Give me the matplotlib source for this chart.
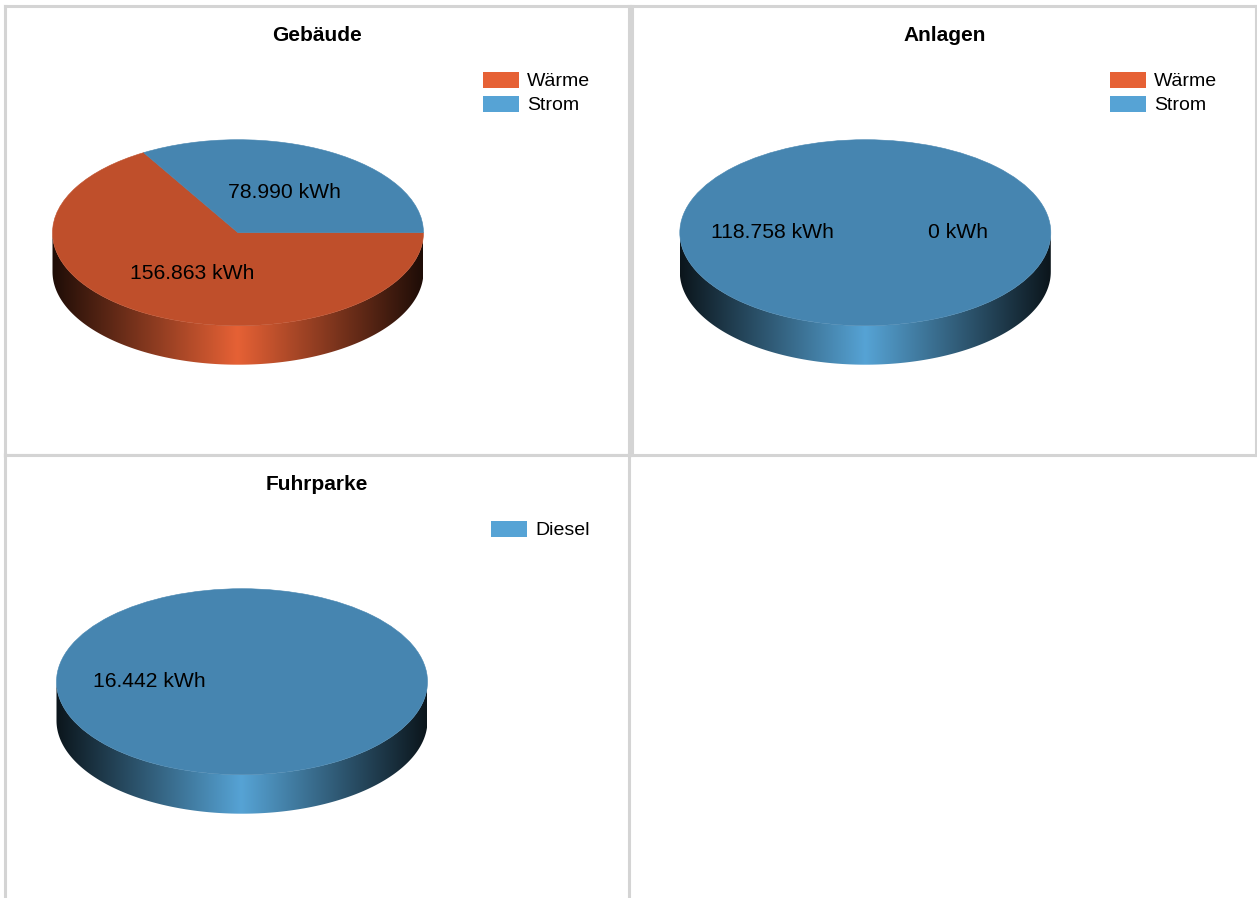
import numpy as np
import matplotlib
matplotlib.use("Agg")
import matplotlib.pyplot as plt
from matplotlib.patches import Wedge, Rectangle, PathPatch
from matplotlib.path import Path
from matplotlib.transforms import Affine2D
from matplotlib.colors import to_rgb

plt.rcParams['font.family'] = ['Liberation Sans', 'DejaVu Sans']

W, H = 1257, 898

titles = ["Gebäude", "Anlagen", "Fuhrparke"]
gebaeude_names = ["Wärme", "Strom"]
gebaeude_values = [156863, 78990]
anlagen_names = ["Wärme", "Strom"]
anlagen_values = [0, 118758]
fuhrpark_names = ["Diesel"]
fuhrpark_values = [16442]

SIDE = {"Wärme": "#E66135", "Strom": "#56A3D5", "Diesel": "#56A3D5"}
TOP = {"Wärme": "#BF4F2B", "Strom": "#4685B0", "Diesel": "#4685B0"}
FRAME = "#D4D4D4"

RX, RY, DEPTH = 185.5, 93.0, 39.0
EDGE = 0.13


def fmt(v):
    return f"{v:,}".replace(",", ".") + " kWh"


def draw_panel(box, title, names, values, center, legend_x, title_x, frame_bottom=True):
    x0, y0, x1, y1 = box
    ax = plt.figure(1).add_axes([x0 / W, 1 - y1 / H, (x1 - x0) / W, (y1 - y0) / H])
    w, h = x1 - x0, y1 - y0
    cx, cy = center
    cy_up = h - cy
    total = sum(values)
    to_disc = Affine2D().scale(1, RY / RX).translate(cx, cy_up) + ax.transData

    start = 0.0
    for name, v in zip(names, values):
        sweep = 360.0 * v / total
        a2, a1 = start, start - sweep  # clockwise from east
        mid = np.radians((a1 + a2) / 2)
        # visible rim: part of the slice on the front half of the disc
        lo, hi = max(a1, -180.0), min(a2, 0.0)
        if hi > lo:
            t = np.radians(np.linspace(lo, hi, 200))
            xs = cx + RX * np.cos(t)
            ys = cy_up + RY * np.sin(t)
            pts = np.r_[np.c_[xs, ys], np.c_[xs[::-1], ys[::-1] - DEPTH]]
            clip = PathPatch(Path(np.r_[pts, pts[:1]], closed=True), fc="none", ec="none",
                             transform=ax.transData)
            ax.add_patch(clip)
            u = np.linspace(-1, 1, 512)
            f = 1 - (1 - EDGE) * np.abs(u)
            rgb = np.outer(f, to_rgb(SIDE[name]))[None, :, :]
            im = ax.imshow(rgb, extent=[cx - RX, cx + RX, cy_up - RY - DEPTH, cy_up + RY],
                           aspect="auto", interpolation="bilinear", zorder=1)
            im.set_clip_path(clip)
        if v > 0:
            ax.add_patch(Wedge((0, 0), RX, a1, a2, fc=TOP[name], ec=TOP[name], lw=0.4,
                               transform=to_disc, zorder=2))
        ax.text(cx + 0.5 * RX * np.cos(mid), cy_up + 0.5 * RY * np.sin(mid), fmt(v),
                ha="center", va="center", fontsize=15.2, color="black", zorder=3)
        start = a1

    ax.text(title_x, h - 35, title, ha="center", va="baseline", fontsize=15,
            fontweight="bold", color="black")

    for i, name in enumerate(names):
        ly = h - (74 + 24 * i)
        ax.add_patch(Rectangle((legend_x, ly - 8), 36, 16, fc=SIDE[name], ec="none"))
        ax.text(legend_x + 44, ly - 6, name, ha="left", va="baseline", fontsize=14, color="black")

    ax.set_xlim(0, w)
    ax.set_ylim(0, h)
    ax.set_xticks([])
    ax.set_yticks([])
    for s in ax.spines.values():
        s.set_color(FRAME)
        s.set_linewidth(2.2)
    ax.spines["bottom"].set_visible(frame_bottom)
    return ax


fig = plt.figure(1, figsize=(W / 100, H / 100), dpi=100, facecolor="white")
draw_panel((5, 6, 629, 455), titles[0], gebaeude_names, gebaeude_values, (233, 226.7), 478, 312)
draw_panel((632, 6, 1256, 455), titles[1], anlagen_names, anlagen_values, (233.3, 226.7), 478, 313)
draw_panel((5, 455, 629, 896), titles[2], fuhrpark_names, fuhrpark_values, (237, 226.7), 486, 312,
           frame_bottom=False)
fig.savefig("out.png", dpi=100, facecolor="white")
